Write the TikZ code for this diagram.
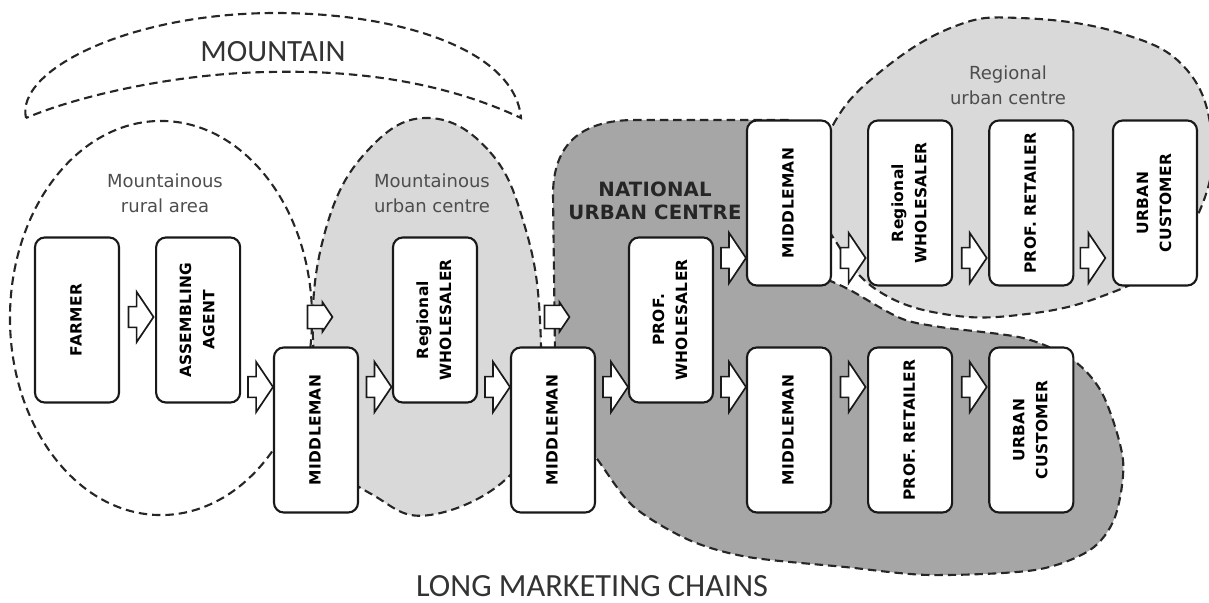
\documentclass[tikz,border=0pt]{standalone}
\usepackage{fontspec}
\usepackage{graphicx}
\usetikzlibrary{positioning, shapes.arrows}
\newfontfamily\boxfont{DejaVu Sans}
\newfontfamily\stagefont{DejaVu Sans}[LetterSpace=2]
\newfontfamily\widefont{DejaVu Sans}[LetterSpace=1]
\newfontfamily\headfont{Carlito}
\definecolor{lightarea}{HTML}{D9D9D9}
\definecolor{darkarea}{HTML}{A6A6A6}
\definecolor{labelgray}{HTML}{4D4D4D}
\definecolor{titlegray}{HTML}{333333}
\newcommand{\uptext}[1]{\rotatebox{90}{\begin{tabular}{@{}c@{}}#1\end{tabular}}}

\begin{document}
\begin{tikzpicture}[x=0.025cm, y=-0.025cm, node distance=0.875cm,
  stage/.style={draw=black!90, fill=white, line width=1.5pt, rounded corners=7pt, minimum width=2.1cm, minimum height=4.125cm, inner sep=0pt, font=\stagefont\bfseries\fontsize{11}{16.4}\selectfont},
  flow/.style={single arrow, draw=black!90, fill=white, line width=1.2pt, minimum height=0.625cm, inner xsep=0pt, inner ysep=0.2375cm, single arrow head extend=0.37cm, single arrow tip angle=112},
  entry/.style={flow, inner ysep=0.27cm, single arrow head extend=0.08cm},
  area/.style={draw=black!85, line width=1.5pt, dash pattern=on 6pt off 3.5pt},
  arealabel/.style={align=center, text=labelgray, font=\boxfont\fontsize{12.8}{17.8}\selectfont},
  headline/.style={text=titlegray, inner sep=0pt, font=\headfont\fontsize{22}{26}\selectfont}]
\useasboundingbox (0,0) rectangle (1209,603);

% areas
\draw[area] (26,118) .. controls (15,70) and (130,13) .. (276,13) .. controls (400,13) and (515,50) .. (521,118) .. controls (440,80) and (350,70) .. (270,72) .. controls (180,73) and (80,95) .. (26,118) -- cycle;
\draw[area, fill=darkarea] (556,430) -- (553,195) .. controls (553,145) and (580,120) .. (635,120) -- (790,120) -- plot[smooth] coordinates {(828,280) (850,290) (900,318) (940,327) (1023,338) (1073,360) (1103,395) (1123,460) (1115,517) (1090,550) (1035,570) (930,575) (845,567) (748,557) (689,540) (634,507) (600,463) (585,440)} -- cycle;
\draw[area, fill=lightarea] plot[smooth cycle, tension=0.7] coordinates {(429,118) (490,152) (525,227) (540,320) (535,420) (505,480) (430,515) (378,498) (335,455) (313,340) (327,225) (370,148)};
\draw[area] (161,318) ellipse [x radius=3.775cm, y radius=4.925cm];
\draw[area, fill=lightarea] plot[smooth cycle, tension=0.7] coordinates {(815,190) (833,125) (880,72) (953,27) (1020,18) (1120,33) (1187,70) (1212,140) (1200,210) (1160,265) (1100,297) (1027,314) (950,315) (880,292) (838,245)};

% labels
\node[headline] (mountain) at (273,52) {MOUNTAIN};
\node[arealabel] (rural) at (165,193) {Mountainous\\rural area};
\node[arealabel] (mountaincity) at (432,193) {Mountainous\\urban centre};
\node[arealabel] (regioncity) at (1008,85) {Regional\\urban centre};
\node[align=center, text=black!85, inner sep=0pt, font=\widefont\bfseries\fontsize{14}{16.4}\selectfont] (national) at (655,201) {NATIONAL\\URBAN CENTRE};
\node[headline, font=\headfont\fontsize{23}{27}\selectfont] (chains) at (592,586) {LONG MARKETING CHAINS};

% stages
\node[stage] (farmer) at (77,320) {\uptext{FARMER}};
\node[stage, right=of farmer] (assembling) {\uptext{ASSEMBLING\\AGENT}};
\node[stage] (mid1) at (316,430) {\uptext{MIDDLEMAN}};
\node[stage] (regws1) at (435,320) {\uptext{Regional\\WHOLESALER}};
\node[stage] (mid2) at (553,430) {\uptext{MIDDLEMAN}};
\node[stage] (profws) at (671,320) {\uptext{PROF.\\WHOLESALER}};
\node[stage] (midtop) at (789,203) {\uptext{MIDDLEMAN}};
\node[stage, right=of midtop] (regws2) {\uptext{Regional\\WHOLESALER}};
\node[stage, right=of regws2] (retailtop) {\uptext{PROF. RETAILER}};
\node[stage] (custtop) at (1155,203) {\uptext{URBAN\\CUSTOMER}};
\node[stage] (midlow) at (789,430) {\uptext{MIDDLEMAN}};
\node[stage, right=of midlow] (retaillow) {\uptext{PROF. RETAILER}};
\node[stage, right=of retaillow] (custlow) {\uptext{URBAN\\CUSTOMER}};

% flows
\coordinate (leftflow) at (0,317);
\coordinate (lowflow) at (0,387);
\coordinate (highflow) at (0,258);
\path (farmer.east |- leftflow) -- node[flow] (f1) {} (assembling.west |- leftflow);
\path (assembling.east |- lowflow) -- node[flow] (f2) {} (mid1.west |- lowflow);
\path (mid1.east |- lowflow) -- node[flow] (f3) {} (regws1.west |- lowflow);
\path (regws1.east |- lowflow) -- node[flow] (f4) {} (mid2.west |- lowflow);
\path (mid2.east |- lowflow) -- node[flow] (f5) {} (profws.west |- lowflow);
\path (profws.east |- highflow) -- node[flow] (f6) {} (midtop.west |- highflow);
\path (profws.east |- lowflow) -- node[flow] (f7) {} (midlow.west |- lowflow);
\path (midtop.east |- highflow) -- node[flow] (f8) {} (regws2.west |- highflow);
\path (regws2.east |- highflow) -- node[flow] (f9) {} (retailtop.west |- highflow);
\path (retailtop.east |- highflow) -- node[flow, pos=0.4] (f10) {} (custtop.west |- highflow);
\path (midlow.east |- lowflow) -- node[flow] (f11) {} (retaillow.west |- lowflow);
\path (retaillow.east |- lowflow) -- node[flow] (f12) {} (custlow.west |- lowflow);
\node[entry] (enter1) at (mid1.north |- leftflow) {};
\node[entry] (enter2) at (mid2.north |- leftflow) {};
\end{tikzpicture}
\end{document}
